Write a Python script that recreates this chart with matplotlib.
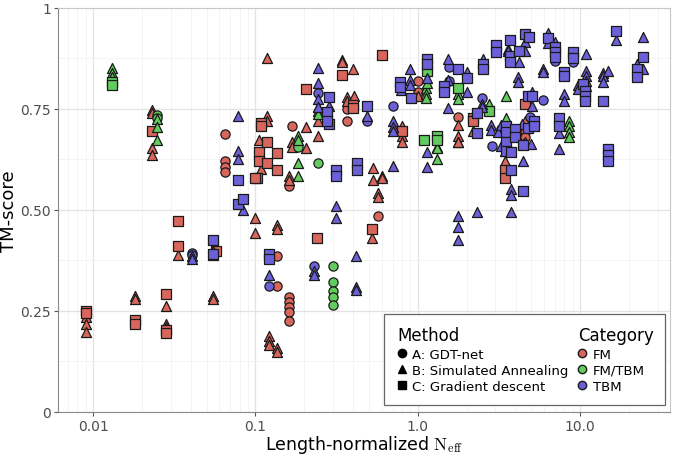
import matplotlib
matplotlib.use("Agg")
import matplotlib.pyplot as plt
from matplotlib.lines import Line2D
from matplotlib.patches import Rectangle
from matplotlib.ticker import FixedLocator, NullFormatter

plt.rcParams['mathtext.fontset'] = 'cm'

# FM targets
fm_a_x = [0.0647, 0.0647, 0.0647, 0.0647, 0.135, 0.135, 0.160, 0.160, 0.160, 0.160, 0.160, 0.160,
          0.167, 0.365, 0.365, 0.567, 1.0, 1.0, 1.76, 4.6, 4.6]
fm_a_y = [0.689, 0.622, 0.607, 0.593, 0.385, 0.311, 0.560, 0.284, 0.272, 0.259, 0.247, 0.225,
          0.709, 0.751, 0.721, 0.486, 0.820, 0.793, 0.731, 0.694, 0.681]
fm_b_x = [0.009, 0.009, 0.009, 0.018, 0.018, 0.028, 0.028, 0.028, 0.0332, 0.0546, 0.0546,
          0.023, 0.023, 0.023, 0.023, 0.100, 0.100, 0.135, 0.135, 0.121, 0.121, 0.121, 0.135, 0.135,
          0.117, 0.117, 0.117, 0.105, 0.108, 0.204, 0.204, 0.167, 0.167, 0.160, 0.160, 0.242, 0.242,
          0.340, 0.340, 0.398, 0.365, 0.365, 0.403, 0.797, 0.797, 0.797, 0.528, 0.528, 0.600, 0.600,
          0.567, 0.567, 0.521, 1.0, 1.76, 1.76, 1.76, 1.76, 2.18, 3.44, 3.44, 4.6, 4.56]
fm_b_y = [0.235, 0.217, 0.198, 0.286, 0.280, 0.262, 0.217, 0.210, 0.388, 0.286, 0.280,
          0.748, 0.740, 0.654, 0.637, 0.481, 0.444, 0.462, 0.454, 0.188, 0.175, 0.165, 0.158, 0.148,
          0.876, 0.733, 0.721, 0.674, 0.602, 0.706, 0.654, 0.669, 0.657, 0.583, 0.573, 0.719, 0.684,
          0.871, 0.867, 0.849, 0.780, 0.770, 0.783, 0.709, 0.684, 0.669, 0.605, 0.575, 0.585, 0.578,
          0.541, 0.531, 0.430, 0.783, 0.711, 0.684, 0.669, 0.667, 0.696, 0.647, 0.620, 0.669, 0.719]
fm_c_x = [0.009, 0.009, 0.018, 0.018, 0.028, 0.028, 0.028, 0.0332, 0.0332, 0.0569, 0.023,
          0.102, 0.108, 0.108, 0.105, 0.105, 0.117, 0.117, 0.135, 0.135, 0.100, 0.204, 0.239,
          0.340, 0.398, 0.398, 0.600, 0.797, 0.521, 2.18, 2.18, 4.56, 3.44, 3.44]
fm_c_y = [0.249, 0.245, 0.227, 0.217, 0.291, 0.202, 0.195, 0.472, 0.410, 0.398, 0.696,
          0.580, 0.716, 0.709, 0.644, 0.622, 0.667, 0.617, 0.642, 0.600, 0.578, 0.800, 0.430,
          0.835, 0.760, 0.753, 0.883, 0.696, 0.452, 0.728, 0.719, 0.763, 0.600, 0.578]

# FM/TBM targets
fmtbm_a_x = [0.0247, 0.0247, 0.182, 0.242, 0.299, 0.299, 0.299, 0.299, 0.299]
fmtbm_a_y = [0.736, 0.728, 0.657, 0.617, 0.360, 0.321, 0.299, 0.284, 0.264]
fmtbm_b_x = [0.013, 0.013, 0.013, 0.0247, 0.0247, 0.0247, 0.182, 0.182, 0.182, 0.182,
             0.242, 0.242, 0.242, 1.12, 1.12, 1.12, 1.136, 1.76, 1.76, 1.31, 1.31, 1.31,
             3.48, 2.74, 3.48, 8.52, 8.52, 8.52, 8.52]
fmtbm_b_y = [0.852, 0.840, 0.830, 0.726, 0.706, 0.674, 0.684, 0.672, 0.617, 0.583,
             0.756, 0.746, 0.738, 0.802, 0.788, 0.778, 0.815, 0.788, 0.775, 0.657, 0.654, 0.627,
             0.783, 0.763, 0.728, 0.721, 0.709, 0.694, 0.681]
fmtbm_c_x = [0.013, 0.013, 1.136, 1.76, 2.74, 1.089, 1.31, 1.31]
fmtbm_c_y = [0.817, 0.810, 0.844, 0.802, 0.746, 0.672, 0.684, 0.672]

# TBM targets
tbm_a_x = [0.0405, 0.0405, 0.121, 0.229, 0.242, 0.485, 0.701, 1.55, 1.55, 2.48, 3.25, 2.86,
           5.89, 4.90, 6.98, 9.02]
tbm_a_y = [0.393, 0.388, 0.311, 0.360, 0.790, 0.721, 0.758, 0.854, 0.820, 0.778, 0.701, 0.659,
           0.773, 0.731, 0.869, 0.867]
tbm_b_x = [0.0405, 0.0405, 0.0546, 0.0546, 0.0778, 0.0778, 0.0778, 0.0835, 0.121, 0.229, 0.229,
           0.242, 0.242, 0.242, 0.242, 0.283, 0.312, 0.312, 0.485, 0.415, 0.415, 0.415,
           0.701, 0.701, 0.701, 0.701, 0.893, 0.893, 0.893, 0.785, 1.136, 1.136, 1.136,
           1.53, 1.53, 1.53, 2.0, 2.0, 2.51, 3.59, 3.59, 4.19, 4.56, 4.56, 4.13, 4.13,
           2.48, 2.48, 2.82, 2.82, 3.11, 3.25, 3.25, 4.37, 1.76, 1.76, 1.76, 2.31, 3.74, 3.74, 3.74,
           4.43, 4.43, 4.50, 4.97, 5.04, 5.04, 6.32, 6.32, 6.98, 5.89, 5.89, 7.94, 7.94, 7.39, 7.39,
           10.8, 10.8, 10.8, 10.8, 10.8, 9.68, 9.68, 13.8, 13.8, 13.8, 14.8, 16.6, 24.3, 24.3, 22.4]
tbm_b_y = [0.385, 0.378, 0.398, 0.388, 0.733, 0.647, 0.627, 0.501, 0.338, 0.348, 0.338,
           0.852, 0.815, 0.775, 0.756, 0.758, 0.511, 0.479, 0.733, 0.385, 0.309, 0.301,
           0.719, 0.706, 0.696, 0.610, 0.849, 0.822, 0.810, 0.798, 0.827, 0.644, 0.607,
           0.874, 0.822, 0.753, 0.842, 0.793, 0.874, 0.899, 0.894, 0.867, 0.916, 0.894, 0.830, 0.817,
           0.763, 0.756, 0.711, 0.699, 0.694, 0.711, 0.659, 0.714, 0.484, 0.457, 0.425, 0.496, 0.494, 0.553, 0.536,
           0.664, 0.620, 0.664, 0.664, 0.793, 0.758, 0.938, 0.914, 0.916, 0.849, 0.842, 0.788, 0.770, 0.691, 0.652,
           0.886, 0.844, 0.832, 0.820, 0.807, 0.810, 0.800, 0.840, 0.832, 0.817, 0.844, 0.921, 0.928, 0.849, 0.862]
tbm_c_x = [0.0546, 0.0546, 0.0778, 0.0778, 0.0835, 0.121, 0.121, 0.283, 0.283, 0.275, 0.275,
           0.312, 0.312, 0.421, 0.421, 0.485, 0.774, 0.774, 0.906, 1.136, 1.136, 1.445, 1.445,
           1.76, 2.0, 2.51, 2.51, 3.02, 3.02, 3.69, 3.69, 3.69, 4.19, 4.56, 4.83, 4.76, 2.31, 2.31,
           3.48, 3.48, 3.48, 3.48, 3.96, 3.96, 4.76, 5.18, 5.18, 6.32, 6.98, 6.98, 6.98, 9.02, 9.02,
           7.94, 7.94, 10.4, 10.7, 10.7, 10.7, 13.8, 16.6, 24.3, 22.4, 22.4, 7.39, 7.39,
           14.8, 14.8, 14.8, 5.04, 3.74, 3.74, 4.43, 4.43]
tbm_c_y = [0.425, 0.390, 0.575, 0.514, 0.526, 0.390, 0.378, 0.780, 0.714, 0.743, 0.721,
           0.600, 0.585, 0.615, 0.600, 0.758, 0.817, 0.805, 0.778, 0.874, 0.862, 0.807, 0.793,
           0.849, 0.827, 0.862, 0.849, 0.909, 0.891, 0.921, 0.881, 0.867, 0.894, 0.936, 0.928, 0.783, 0.741, 0.691,
           0.709, 0.694, 0.669, 0.647, 0.701, 0.681, 0.704, 0.719, 0.709, 0.926, 0.904, 0.891, 0.879, 0.891, 0.877,
           0.842, 0.832, 0.812, 0.795, 0.783, 0.770, 0.770, 0.943, 0.879, 0.849, 0.830, 0.728, 0.709,
           0.652, 0.635, 0.620, 0.783, 0.644, 0.600, 0.662, 0.546]

colors = {'FM': '#d9665c', 'FM/TBM': '#62cc5e', 'TBM': '#6b60d8'}
markers = {'A': ('o', 44), 'B': ('^', 52), 'C': ('s', 46)}

groups = [
    ('FM', 'A', fm_a_x, fm_a_y), ('FM', 'B', fm_b_x, fm_b_y), ('FM', 'C', fm_c_x, fm_c_y),
    ('FM/TBM', 'A', fmtbm_a_x, fmtbm_a_y), ('FM/TBM', 'B', fmtbm_b_x, fmtbm_b_y),
    ('FM/TBM', 'C', fmtbm_c_x, fmtbm_c_y),
    ('TBM', 'A', tbm_a_x, tbm_a_y), ('TBM', 'B', tbm_b_x, tbm_b_y), ('TBM', 'C', tbm_c_x, tbm_c_y),
]

fig = plt.figure(figsize=(6.73, 4.56), dpi=100)
ax = fig.add_axes([0.0862, 0.0945, 0.9093, 0.8858])

for cat, meth, xs, ys in groups:
    m, s = markers[meth]
    ax.scatter(xs, ys, marker=m, s=s, c=colors[cat], edgecolors='#1a1a1a',
               linewidths=0.9, zorder=3)

ax.set_xscale('log')
ax.set_xlim(0.00608, 35.7)
ax.set_ylim(0, 1)

ax.set_xticks([0.01, 0.1, 1, 10])
ax.set_xticklabels(['0.01', '0.1', '1.0', '10.0'])
minor_x = [m * 10.0 ** e for e in range(-3, 2) for m in range(2, 10)]
ax.xaxis.set_minor_locator(FixedLocator(minor_x))
ax.xaxis.set_minor_formatter(NullFormatter())
ax.set_yticks([0, 0.25, 0.5, 0.75, 1])
ax.set_yticklabels(['0', '0.25', '0.50', '0.75', '1'])
ax.set_yticks([0.125, 0.375, 0.625, 0.875], minor=True)

ax.grid(True, which='major', color='#e3e3e3', linewidth=0.9, zorder=0)
ax.grid(True, which='minor', color='#f2f2f2', linewidth=0.6, zorder=0)
ax.set_axisbelow(True)

ax.tick_params(which='major', length=3, pad=2, color='#555555', labelcolor='#4d4d4d', labelsize=10)
ax.tick_params(which='minor', length=0)
for side in ['top', 'right']:
    ax.spines[side].set_color('#c8c8c8')
for side in ['left', 'bottom']:
    ax.spines[side].set_color('#888888')

ax.set_xlabel(r'Length-normalized $\mathrm{N}_{\mathrm{eff}}$', fontsize=12.5, labelpad=0)
ax.set_ylabel('TM-score', fontsize=13, labelpad=2)

# legend box
ax.add_patch(Rectangle((0.533, 0.017), 0.459, 0.225, transform=ax.transAxes,
                       facecolor='white', edgecolor='#666666', linewidth=0.9, zorder=5))
meth_handles = [Line2D([], [], marker=markers[k][0], color='black', linestyle='',
                       markersize=6) for k in ['A', 'B', 'C']]
meth_labels = ['A: GDT-net', 'B: Simulated Annealing', 'C: Gradient descent']
leg1 = ax.legend(meth_handles, meth_labels, title='Method', loc='upper left',
                 bbox_to_anchor=(0.54, 0.235), frameon=False, fontsize=9.5,
                 title_fontsize=12, handlelength=0.6, handletextpad=0.5,
                 labelspacing=0.25, borderpad=0.2, alignment='left')
leg1.set_zorder(6)
ax.add_artist(leg1)
cat_handles = [Line2D([], [], marker='o', markerfacecolor=colors[k], markeredgecolor='#1a1a1a',
                      linestyle='', markersize=6) for k in ['FM', 'FM/TBM', 'TBM']]
leg2 = ax.legend(cat_handles, ['FM', 'FM/TBM', 'TBM'], title='Category', loc='upper left',
                 bbox_to_anchor=(0.835, 0.235), frameon=False, fontsize=9.5,
                 title_fontsize=12, handlelength=0.6, handletextpad=0.5,
                 labelspacing=0.25, borderpad=0.2, alignment='left')
leg2.set_zorder(6)

fig.savefig('out.png', dpi=100)
